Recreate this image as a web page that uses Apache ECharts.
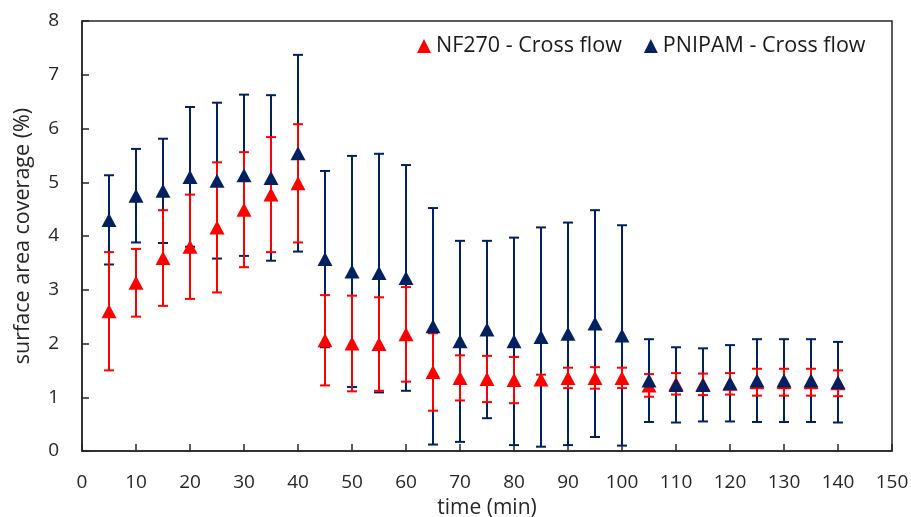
<!DOCTYPE html>
<html>
<head>
<meta charset="utf-8">
<script src="https://cdn.jsdelivr.net/npm/echarts@6/dist/echarts.min.js"></script>
<style>
  html, body { margin: 0; padding: 0; background: #fff; }
  #chart { width: 911px; height: 517px; }
</style>
</head>
<body>
<div id="chart"></div>
<script>
// time points (min)
var times = [5, 10, 15, 20, 25, 30, 35, 40, 45, 50, 55, 60, 65, 70,
             75, 80, 85, 90, 95, 100, 105, 110, 115, 120, 125, 130, 135, 140];
// NF270 - Cross flow: mean and error
var nfMean = [2.6, 3.13, 3.59, 3.8, 4.16, 4.49, 4.77, 4.98, 2.06, 2.0, 1.99, 2.17, 1.47, 1.36,
              1.34, 1.32, 1.33, 1.36, 1.36, 1.36, 1.22, 1.25, 1.24, 1.25, 1.28, 1.28, 1.28, 1.26];
var nfErr = [1.1, 0.63, 0.89, 0.97, 1.21, 1.07, 1.07, 1.1, 0.84, 0.89, 0.87, 0.88, 0.72, 0.42,
             0.43, 0.43, 0.09, 0.19, 0.2, 0.19, 0.21, 0.2, 0.2, 0.2, 0.25, 0.25, 0.25, 0.24];
// PNIPAM - Cross flow: mean and error
var pnMean = [4.3, 4.75, 4.84, 5.1, 5.03, 5.13, 5.08, 5.54, 3.57, 3.34, 3.31, 3.22, 2.32, 2.04,
              2.26, 2.04, 2.12, 2.18, 2.37, 2.15, 1.31, 1.23, 1.23, 1.26, 1.31, 1.31, 1.31, 1.28];
var pnErr = [0.83, 0.87, 0.97, 1.3, 1.45, 1.5, 1.54, 1.83, 1.64, 2.15, 2.22, 2.1, 2.2, 1.87,
             1.65, 1.93, 2.04, 2.07, 2.11, 2.05, 0.77, 0.7, 0.68, 0.71, 0.77, 0.77, 0.77, 0.75];

var RED = '#ff0000';
var NAVY = '#002060';
var FONT = 'Open Sans';

function pts(mean) {
  return times.map(function (t, i) { return [t, mean[i]]; });
}
function errData(mean, err) {
  return times.map(function (t, i) { return [t, mean[i] - err[i], mean[i] + err[i]]; });
}
function errSeries(mean, err, color, z) {
  return {
    type: 'custom',
    z: z,
    silent: true,
    data: errData(mean, err),
    encode: { x: 0, y: [1, 2] },
    renderItem: function (params, api) {
      var lo = api.coord([api.value(0), api.value(1)]);
      var hi = api.coord([api.value(0), api.value(2)]);
      var w = 5;
      var style = { stroke: color, lineWidth: 2 };
      return {
        type: 'group',
        children: [
          { type: 'line', shape: { x1: lo[0], y1: lo[1], x2: hi[0], y2: hi[1] }, style: style },
          { type: 'line', shape: { x1: lo[0] - w, y1: lo[1], x2: lo[0] + w, y2: lo[1] }, style: style },
          { type: 'line', shape: { x1: hi[0] - w, y1: hi[1], x2: hi[0] + w, y2: hi[1] }, style: style }
        ]
      };
    }
  };
}

var chart = echarts.init(document.getElementById('chart'));
var option = {
  animation: false,
  backgroundColor: '#fff',
  grid: {
    left: 82, right: 19, top: 21, bottom: 66,
    containLabel: false, outerBoundsMode: 'none',
    show: true, borderColor: '#262626', borderWidth: 1.5
  },
  legend: {
    data: ['NF270 - Cross flow', 'PNIPAM - Cross flow'],
    left: 412, top: 30,
    itemWidth: 14, itemHeight: 14, itemGap: 22,
    textStyle: { fontFamily: FONT, fontSize: 21.5, color: '#1a1a1a' }
  },
  xAxis: {
    type: 'value', min: 0, max: 150, interval: 10,
    name: 'time (min)', nameLocation: 'middle', nameGap: 47,
    nameTextStyle: { fontFamily: FONT, fontSize: 21, color: '#262626' },
    axisLine: { lineStyle: { color: '#262626', width: 1.5 } },
    axisTick: { inside: true, length: 7, lineStyle: { color: '#262626', width: 1.5 } },
    axisLabel: { fontFamily: FONT, fontSize: 19, color: '#262626', margin: 22 },
    splitLine: { show: false }
  },
  yAxis: {
    type: 'value', min: 0, max: 8, interval: 1,
    name: 'surface area coverage (%)', nameLocation: 'middle', nameGap: 48,
    nameTextStyle: { fontFamily: FONT, fontSize: 21.5, color: '#262626' },
    axisLine: { lineStyle: { color: '#262626', width: 1.5 } },
    axisTick: { inside: true, length: 7, lineStyle: { color: '#262626', width: 1.5 } },
    axisLabel: { fontFamily: FONT, fontSize: 19, color: '#262626', margin: 23 },
    splitLine: { show: false }
  },
  series: [
    errSeries(pnMean, pnErr, NAVY, 2),
    errSeries(nfMean, nfErr, RED, 3),
    {
      name: 'NF270 - Cross flow', type: 'scatter', z: 4,
      symbol: 'triangle', symbolSize: [15, 14],
      itemStyle: { color: RED, opacity: 1 },
      data: pts(nfMean)
    },
    {
      name: 'PNIPAM - Cross flow', type: 'scatter', z: 5,
      symbol: 'triangle', symbolSize: [15, 14],
      itemStyle: { color: NAVY, opacity: 1 },
      data: pts(pnMean)
    }
  ]
};
chart.setOption(option);
</script>
</body>
</html>
